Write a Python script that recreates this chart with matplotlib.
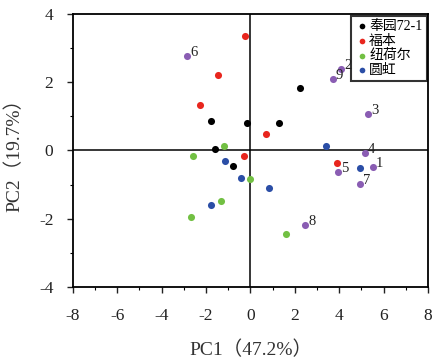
import matplotlib
matplotlib.use("Agg")
import matplotlib.pyplot as plt
from matplotlib.ticker import MultipleLocator

plt.rcParams['font.family'] = ['Liberation Serif', 'Noto Sans CJK SC', 'DejaVu Sans']
plt.rcParams['axes.unicode_minus'] = False

series_names = ['奉园72-1', '福本', '纽荷尔', '圆虹']
series_colors = ['#000000', '#e8261e', '#72c043', '#2b4ea6']

fy_x = [-1.77, -0.15, 2.22, 1.28, -1.59, -0.77]
fy_y = [0.85, 0.82, 1.83, 0.80, 0.03, -0.47]
fb_x = [-0.23, -1.46, -2.25, 0.71, -0.30, 3.91]
fb_y = [3.36, 2.20, 1.34, 0.49, -0.15, -0.36]
nh_x = [-1.17, -2.57, 0.0, -1.34, -2.70, 1.62]
nh_y = [0.12, -0.17, -0.85, -1.48, -1.94, -2.44]
yh_x = [-1.13, -0.42, -1.77, 0.83, 3.41, 4.96]
yh_y = [-0.32, -0.82, -1.61, -1.11, 0.13, -0.51]

var_labels = ['1', '2', '3', '4', '5', '6', '7', '8', '9']
var_x = [5.53, 4.10, 5.30, 5.15, 3.95, -2.85, 4.96, 2.48, 3.71]
var_y = [-0.49, 2.38, 1.07, -0.06, -0.64, 2.76, -0.99, -2.19, 2.11]
var_color = '#8a5db3'

fig = plt.figure(figsize=(4.34, 3.63), dpi=100)
ax = fig.add_axes([0.168, 0.21, 0.818, 0.751])

xs = [fy_x, fb_x, nh_x, yh_x]
ys = [fy_y, fb_y, nh_y, yh_y]
ax.axhline(0, color='black', lw=1.1, zorder=1)
ax.axvline(0, color='black', lw=1.1, zorder=1)
for x, y, n, c in zip(xs, ys, series_names, series_colors):
    ax.scatter(x, y, s=26, color=c, label=n, zorder=3, linewidths=0)
ax.scatter(var_x, var_y, s=26, color=var_color, zorder=3, linewidths=0)
for lx, ly, t in zip(var_x, var_y, var_labels):
    ax.annotate(t, (lx, ly), xytext=(2, 0), textcoords='offset points',
                fontsize=10.5, color='#222222', ha='left', va='baseline', zorder=6)

ax.set_xlim(-8, 8)
ax.set_ylim(-4, 4)
ax.xaxis.set_major_locator(MultipleLocator(2))
ax.xaxis.set_minor_locator(MultipleLocator(1))
ax.yaxis.set_major_locator(MultipleLocator(2))
ax.yaxis.set_minor_locator(MultipleLocator(1))
ax.tick_params(which='major', direction='out', length=4, width=1, labelsize=12.5, colors='#222222')
ax.tick_params(axis='x', which='major', pad=11)
ax.tick_params(axis='y', which='major', pad=10)
ax.tick_params(which='minor', direction='out', length=2, width=0.8)
for s in ax.spines.values():
    s.set_linewidth(1.3)
ax.set_xlabel('PC1（47.2%）', fontsize=14, color='#333333', labelpad=12)
ax.set_ylabel('PC2（19.7%）', fontsize=14, color='#333333', labelpad=11)

leg = ax.legend(loc='upper right', fontsize=10, frameon=True, fancybox=False,
                handletextpad=0.0, borderpad=0.3, labelspacing=0.12,
                handlelength=1.0, markerscale=0.8, borderaxespad=0.1)
leg.get_frame().set_edgecolor('black')
leg.get_frame().set_linewidth(1.5)
leg.set_zorder(5)

fig.savefig('out.png', dpi=100)
